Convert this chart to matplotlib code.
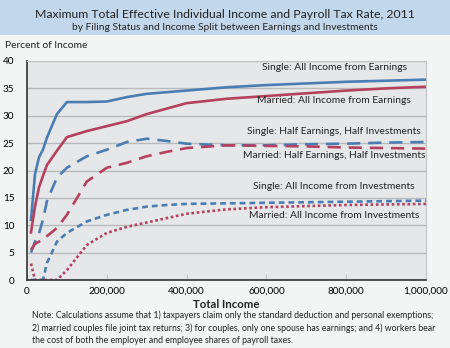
import matplotlib.pyplot as plt
import matplotlib.patches as mpatches
from matplotlib.ticker import FuncFormatter

plt.rcParams['font.family'] = ['Lato', 'DejaVu Sans']

# income levels (dollars)
income = [10000, 20000, 30000, 40000, 50000, 75000, 100000, 150000, 200000,
          250000, 300000, 350000, 400000, 500000, 600000, 700000, 800000,
          900000, 1000000]

single_earn = [11.0, 19.3, 22.4, 23.8, 26.0, 30.3, 32.5, 32.5, 32.6,
               33.4, 34.0, 34.3, 34.6, 35.2, 35.6, 35.9, 36.2, 36.4, 36.6]
married_earn = [8.7, 13.4, 16.9, 19.0, 21.0, 23.6, 26.1, 27.2, 28.1,
                29.0, 30.3, 31.3, 32.3, 33.1, 33.6, 34.1, 34.6, 35.0, 35.3]
single_half = [5.0, 7.0, 8.5, 11.0, 14.4, 18.7, 20.5, 22.6, 23.8,
               25.2, 25.8, 25.4, 24.9, 24.6, 24.6, 24.8, 24.9, 25.1, 25.2]
married_half = [5.5, 6.6, 7.0, 7.2, 8.0, 9.5, 11.9, 18.0, 20.5,
                21.4, 22.6, 23.4, 24.1, 24.6, 24.5, 24.4, 24.2, 24.1, 24.0]
single_inv = [0.0, 0.0, 0.0, 0.0, 3.1, 7.0, 8.6, 10.7, 11.9,
              12.8, 13.4, 13.7, 13.9, 14.0, 14.1, 14.2, 14.3, 14.4, 14.5]
married_inv = [3.0, 0.0, 0.0, 0.0, 0.0, 0.0, 1.8, 6.4, 8.6,
               9.7, 10.5, 11.3, 12.1, 12.9, 13.3, 13.5, 13.7, 13.8, 13.9]

labels = ['Single: All Income from Earnings', 'Married: All Income from Earnings',
          'Single: Half Earnings, Half Investments', 'Married: Half Earnings, Half Investments',
          'Single: All Income from Investments', 'Married: All Income from Investments']
label_y = [38.8, 32.7, 27.2, 22.8, 17.0, 11.8]

blue = '#4a7db3'
red = '#b3415f'

fig = plt.figure(figsize=(4.5, 3.48), dpi=100)
fig.patch.set_facecolor('#f3f4f4')
fig.patches.append(mpatches.Rectangle((0, 1 - 35 / 348), 1, 35 / 348, transform=fig.transFigure,
                                      facecolor='#c2d7ec', edgecolor='none', zorder=0))

ax = fig.add_axes([27 / 450, 1 - 280 / 348, 399 / 450, 219 / 348])
ax.set_facecolor('#e6e7e8')

ax.plot(income, single_earn, color=blue, lw=1.9)
ax.plot(income, married_earn, color=red, lw=1.9)
ax.plot(income, single_half, color=blue, lw=1.9, dashes=(5, 3))
ax.plot(income, married_half, color=red, lw=1.9, dashes=(5, 3))
ax.plot(income, single_inv, color=blue, lw=1.9, dashes=(2.2, 1.5))
ax.plot(income, married_inv, color=red, lw=1.9, dashes=(1, 1))

for txt, yy in zip(labels, label_y):
    ax.text(770000, yy, txt, ha='center', va='center', fontsize=7.4, color='#222222')

ax.set_xlim(0, 1000000)
ax.set_ylim(0, 40)
ax.set_yticks(range(0, 41, 5))
ax.set_xticks(range(0, 1000001, 200000))
ax.xaxis.set_major_formatter(FuncFormatter(lambda v, p: f'{int(v):,}'))
ax.grid(axis='y', color='#b9babb', lw=1)
ax.set_axisbelow(True)
ax.tick_params(axis='x', direction='in', length=4, color='#c8c8c8', labelsize=7.2, pad=5)
ax.tick_params(axis='y', length=0, labelsize=7.2, pad=9)
for s in ['top', 'right']:
    ax.spines[s].set_color('#c4c4c4')
for s in ['left', 'bottom']:
    ax.spines[s].set_color('#333333')
    ax.spines[s].set_linewidth(1.2)
ax.set_xlabel('Total Income', fontsize=8.2, fontweight='bold', color='#222222', labelpad=2)

fig.text(0.5, 1 - 14 / 348, 'Maximum Total Effective Individual Income and Payroll Tax Rate, 2011',
         ha='center', va='center', fontsize=8.8, color='#222222')
fig.text(0.5, 1 - 27 / 348, 'by Filing Status and Income Split between Earnings and Investments',
         ha='center', va='center', fontsize=7.4, color='#222222')
fig.text(5 / 450, 1 - 45 / 348, 'Percent of Income', ha='left', va='center', fontsize=7.4, color='#222222')
fig.text(32 / 450, 1 - 328 / 348,
         'Note: Calculations assume that 1) taxpayers claim only the standard deduction and personal exemptions;\n'
         '2) married couples file joint tax returns; 3) for couples, only one spouse has earnings; and 4) workers bear\n'
         'the cost of both the employer and employee shares of payroll taxes.',
         ha='left', va='center', fontsize=6.3, color='#222222', linespacing=1.45)

fig.savefig('out.png', dpi=100, facecolor=fig.get_facecolor())
